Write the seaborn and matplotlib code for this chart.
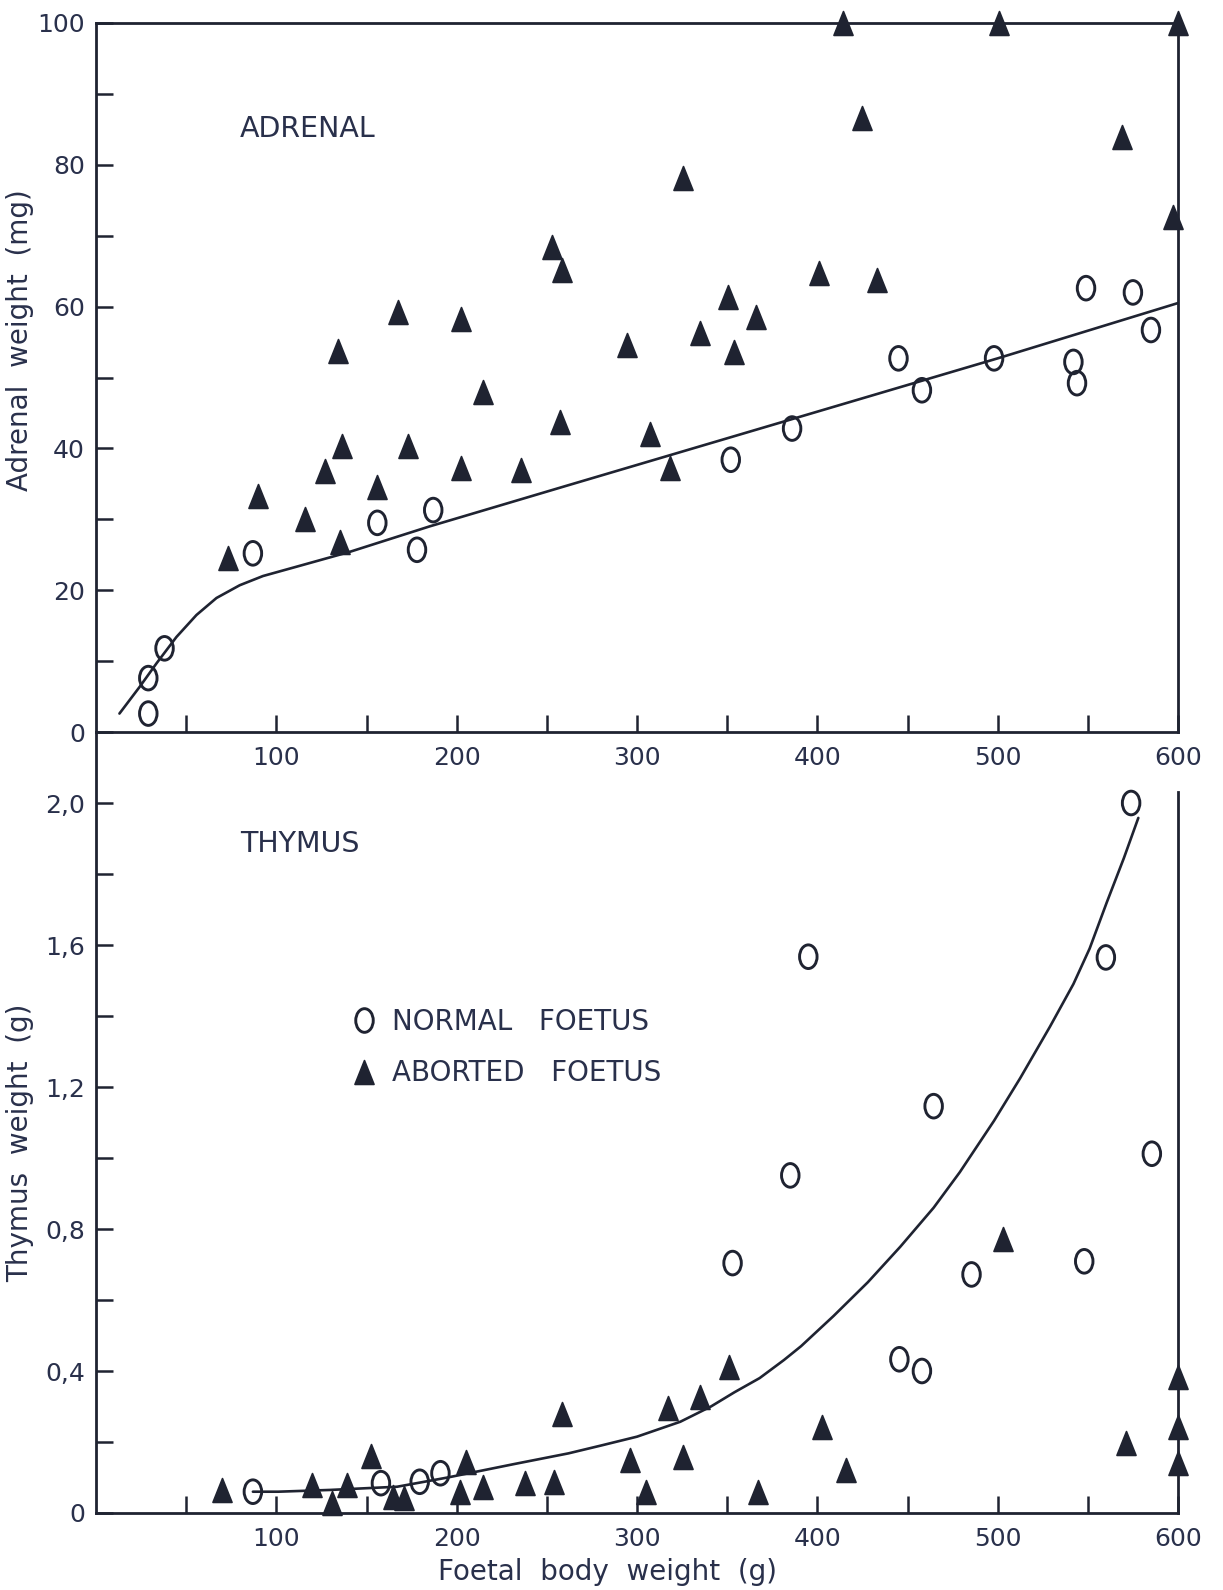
import numpy as np
import pandas as pd
import matplotlib
matplotlib.use("Agg")
import matplotlib.pyplot as plt
import seaborn as sns
from matplotlib.path import Path
from matplotlib.transforms import Affine2D
from matplotlib.lines import Line2D

# ---------------- data ----------------
# Adrenal weight (mg) against foetal body weight (g)
adrenal_normal_x = [29, 29, 38, 87, 156, 178, 187, 352, 386, 445, 458, 498, 542, 544, 549, 575, 585]
adrenal_normal_y = [2.6, 7.6, 11.8, 25.2, 29.5, 25.7, 31.3, 38.4, 42.8, 52.7, 48.2, 52.7, 52.2, 49.2, 62.6, 62.0, 56.7]

adrenal_aborted_x = [73, 90, 116, 127, 134, 136.5, 135.5, 156, 167.5, 173, 202.5, 202.5, 214.5, 235.5,
                     253, 258.5, 257.5, 294.5, 307, 318.5, 325.5, 335, 350.5, 354, 366, 401, 414, 425,
                     433, 501, 569, 597, 600]
adrenal_aborted_y = [24.6, 33.3, 30.0, 36.8, 53.7, 40.4, 26.8, 34.6, 59.2, 40.4, 58.2, 37.3, 47.9, 36.9,
                     68.4, 65.2, 43.7, 54.6, 42.0, 37.2, 78.1, 56.3, 61.4, 53.6, 58.6, 64.8, 100, 86.6,
                     63.8, 100, 83.9, 72.6, 100]

adrenal_fit_x = [13, 24.3, 33.6, 44.6, 55.7, 66.8, 79.7, 92.6, 111, 140.6, 185, 260.5, 500, 600]
adrenal_fit_y = [2.6, 6.4, 9.7, 13.4, 16.5, 18.9, 20.7, 22.0, 23.3, 25.4, 29.0, 34.7, 52.7, 60.5]

# Thymus weight (g) against foetal body weight (g)
thymus_normal_x = [87, 158, 179.5, 191, 353, 385, 395, 445.5, 458, 464.5, 485.5, 548, 560, 574, 585.5]
thymus_normal_y = [0.060, 0.084, 0.088, 0.112, 0.704, 0.951, 1.567, 0.433, 0.400, 1.146, 0.672, 0.709,
                   1.565, 2.0, 1.012]

thymus_aborted_x = [70, 120, 131, 139, 152.5, 164.5, 171, 202, 205, 214.5, 238, 254, 258.5, 296, 305,
                    317, 325.5, 335, 351, 367, 402.5, 416, 503, 571, 600, 600, 600]
thymus_aborted_y = [0.065, 0.079, 0.027, 0.079, 0.160, 0.046, 0.041, 0.060, 0.145, 0.074, 0.084, 0.088,
                    0.279, 0.149, 0.060, 0.295, 0.159, 0.328, 0.410, 0.060, 0.243, 0.121, 0.773, 0.196,
                    0.384, 0.243, 0.140]

thymus_fit_x = [87, 101, 130, 167, 195, 232, 262, 280, 300, 324, 341, 354, 368, 381.5, 391, 409, 428,
                446, 464.5, 479, 498, 512.5, 529, 542, 551, 560.5, 570, 578]
thymus_fit_y = [0.060, 0.060, 0.065, 0.074, 0.100, 0.138, 0.168, 0.190, 0.215, 0.257, 0.300, 0.340,
                0.380, 0.431, 0.470, 0.555, 0.650, 0.750, 0.860, 0.960, 1.105, 1.225, 1.370, 1.490,
                1.590, 1.720, 1.845, 1.958]

x_ticks = list(range(50, 601, 50))
x_labels = ["100", "200", "300", "400", "500", "600"]
adrenal_ticks = list(range(0, 101, 10))
adrenal_labels = ["0", "20", "40", "60", "80", "100"]
thymus_ticks = [0, 0.2, 0.4, 0.6, 0.8, 1.0, 1.2, 1.4, 1.6, 1.8, 2.0]
thymus_labels = ["0", "0,4", "0,8", "1,2", "1,6", "2,0"]

# ---------------- style ----------------
sns.set_theme(style="white")
plt.rcParams["font.family"] = ["DejaVu Sans"]

INK = "#1f2331"
TEXT = "#29304b"

ring = Path.unit_circle().transformed(Affine2D().scale(0.74, 1.0))
tri = Path([(0, 1), (-0.8, -1), (0.8, -1), (0, 1)],
           [Path.MOVETO, Path.LINETO, Path.LINETO, Path.CLOSEPOLY])

RING_S = 290
TRI_S = 295

fig = plt.figure(figsize=(12.23, 15.9), dpi=100)
W, H = 1223, 1590
left = 96 / W
width = (1178 - 96) / W
ax1 = fig.add_axes([left, 1 - 732 / H, width, (732 - 23) / H])
ax2 = fig.add_axes([left, 1 - 1513 / H, width, (1513 - 732) / H])
ax2.patch.set_visible(False)


def draw_points(ax, nx, ny, axx, axy):
    sns.scatterplot(x=nx, y=ny, ax=ax, marker=ring, s=RING_S, color=INK,
                    edgecolor=INK, linewidth=2.1, zorder=4, clip_on=False, legend=False)
    ax.collections[-1].set_facecolor("none")
    sns.scatterplot(x=axx, y=axy, ax=ax, marker=tri, s=TRI_S, color=INK,
                    edgecolor=INK, linewidth=1.2, zorder=4, clip_on=False, legend=False)


def tick_labels(ticks, shown, labels):
    out = []
    it = iter(labels)
    for t in ticks:
        out.append(next(it) if t in shown else "")
    return out


# ---------- adrenal panel ----------
sns.lineplot(x=adrenal_fit_x, y=adrenal_fit_y, ax=ax1, color=INK, linewidth=1.9,
             estimator=None, sort=False, zorder=3)
draw_points(ax1, adrenal_normal_x, adrenal_normal_y, adrenal_aborted_x, adrenal_aborted_y)
ax1.set_xlim(0, 600)
ax1.set_ylim(0, 100)
ax1.set_xticks(x_ticks)
ax1.set_xticklabels(tick_labels(x_ticks, [100, 200, 300, 400, 500, 600], x_labels))
ax1.set_yticks(adrenal_ticks)
ax1.set_yticklabels(tick_labels(adrenal_ticks, [0, 20, 40, 60, 80, 100], adrenal_labels))
ax1.text(80, 85, "ADRENAL", fontsize=20.5, color=TEXT, va="center", ha="left")
ax1.set_ylabel("Adrenal  weight  (mg)", fontsize=20, color=TEXT)
ax1.yaxis.set_label_coords(-0.057, 0.553)
ax1.set_xlabel("")

# ---------- thymus panel ----------
sns.lineplot(x=thymus_fit_x, y=thymus_fit_y, ax=ax2, color=INK, linewidth=1.9,
             estimator=None, sort=False, zorder=3)
draw_points(ax2, thymus_normal_x, thymus_normal_y, thymus_aborted_x, thymus_aborted_y)
ax2.set_xlim(0, 600)
ax2.set_ylim(0, 2.2)
ax2.set_xticks(x_ticks)
ax2.set_xticklabels(tick_labels(x_ticks, [100, 200, 300, 400, 500, 600], x_labels))
ax2.set_yticks(thymus_ticks)
ax2.set_yticklabels(tick_labels(thymus_ticks, [0, 0.4, 0.8, 1.2, 1.6, 2.0], thymus_labels))
ax2.text(80, 1.885, "THYMUS", fontsize=20.5, color=TEXT, va="center", ha="left")
ax2.set_ylabel("Thymus  weight  (g)", fontsize=20, color=TEXT)
ax2.yaxis.set_label_coords(-0.057, 0.474)
ax2.set_xlabel("Foetal  body  weight  (g)", fontsize=20, color=TEXT)
ax2.xaxis.set_label_coords(0.473, -0.058)

handles = [
    Line2D([], [], ls="", marker=ring, markersize=np.sqrt(RING_S), markerfacecolor="none",
           markeredgecolor=INK, markeredgewidth=2.1),
    Line2D([], [], ls="", marker=tri, markersize=np.sqrt(TRI_S), markerfacecolor=INK,
           markeredgecolor=INK, markeredgewidth=1.2),
]
leg = ax2.legend(handles, ["NORMAL   FOETUS", "ABORTED   FOETUS"], loc="upper left",
                 bbox_to_anchor=(0.2375, 0.647), frameon=False, fontsize=20,
                 handlelength=0.8, handletextpad=0.6, labelspacing=0.85, borderpad=0,
                 borderaxespad=0)
for t in leg.get_texts():
    t.set_color(TEXT)

# ---------- axes frames and ticks ----------
for ax in (ax1, ax2):
    ax.grid(False)
    for sp in ax.spines.values():
        sp.set_color(INK)
        sp.set_linewidth(2.0)
    ax.tick_params(direction="in", length=12, width=1.8, color=INK, labelcolor=TEXT,
                   labelsize=18)
    ax.tick_params(axis="y", pad=8)
    ax.tick_params(axis="x", pad=10)
    ax.tick_params(left=True, bottom=True)

ax1.set_facecolor("white")
ax2.spines["top"].set_visible(False)
ax2.spines["right"].set_bounds(0, 2.03)

fig.savefig("out.png", dpi=100, facecolor="white")
